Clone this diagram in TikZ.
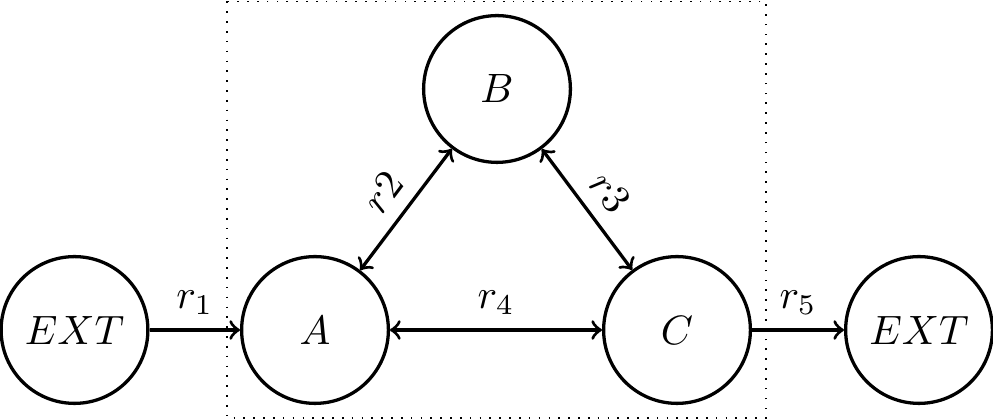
\documentclass[tikz,border=0pt]{standalone}
\usetikzlibrary{arrows}
\begin{document}
\begin{tikzpicture}[x=0.2439pt,y=-0.2439pt,
  state/.style={circle,draw,thick,minimum size=35.8pt,inner sep=0pt},
  flow/.style={thick,->},
  biflow/.style={thick,<->}]
\useasboundingbox (0,0) rectangle (993,420);
\draw[dotted] (227,1.5) rectangle (766,418);
\node[state] (E1) at (74.5,330) {$EXT$};
\node[state] (A) at (315,330) {$A$};
\node[state] (B) at (497,89) {$B$};
\node[state] (C) at (677,330) {$C$};
\node[state] (E2) at (919,330) {$EXT$};
\draw[flow] (E1) -- node[above] {$r_1$} (A);
\draw[biflow] (A) -- node[above,sloped] {$r2$} (B);
\draw[biflow] (B) -- node[above,sloped] {$r3$} (C);
\draw[biflow] (A) -- node[above] {$r_4$} (C);
\draw[flow] (C) -- node[above] {$r_5$} (E2);
\end{tikzpicture}
\end{document}
